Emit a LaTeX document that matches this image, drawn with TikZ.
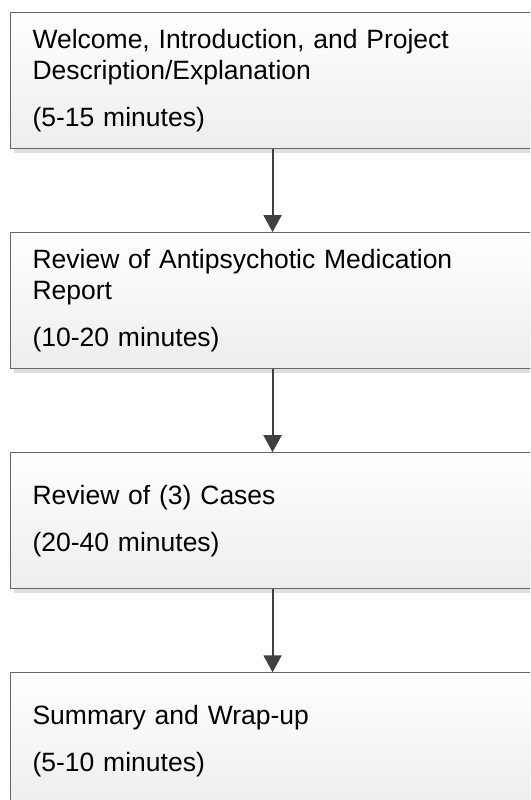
\documentclass[tikz,border=0pt]{standalone}
\usepackage{fontspec}
\setmainfont{Liberation Sans}
\usetikzlibrary{arrows.meta,positioning,shadows}

\tikzset{
  stagebox/.style={draw=black!60, line width=1.1pt, top color=white, bottom color=black!7,
    minimum width=525pt, minimum height=136pt, inner xsep=22.5pt, text width=480pt,
    align=left, font=\fontsize{26.5}{30.5}\selectfont,
    drop shadow={shadow xshift=4pt, shadow yshift=-4pt, fill=black!13, opacity=1}},
  flow/.style={draw=black!75, line width=2pt, -{Triangle[width=18pt,length=17pt]}}
}

\begin{document}
\begin{tikzpicture}[x=1pt,y=-1pt,node distance=83pt]
  \useasboundingbox (0,0) rectangle (530,800);
  \clip (0,0) rectangle (530,800);

  \node[stagebox, anchor=north west] (welcome) at (9.5,12)
    {Welcome, Introduction, and Project\\Description/Explanation\\[16.5pt](5-15 minutes)};
  \node[stagebox, below=of welcome] (medreport)
    {Review of Antipsychotic Medication\\Report\\[16.5pt](10-20 minutes)};
  \node[stagebox, below=of medreport] (cases)
    {Review of (3) Cases\\[16.5pt](20-40 minutes)};
  \node[stagebox, below=of cases] (wrapup)
    {Summary and Wrap-up\\[16.5pt](5-10 minutes)};

  \draw[flow] (welcome) -- (medreport);
  \draw[flow] (medreport) -- (cases);
  \draw[flow] (cases) -- (wrapup);
\end{tikzpicture}
\end{document}
